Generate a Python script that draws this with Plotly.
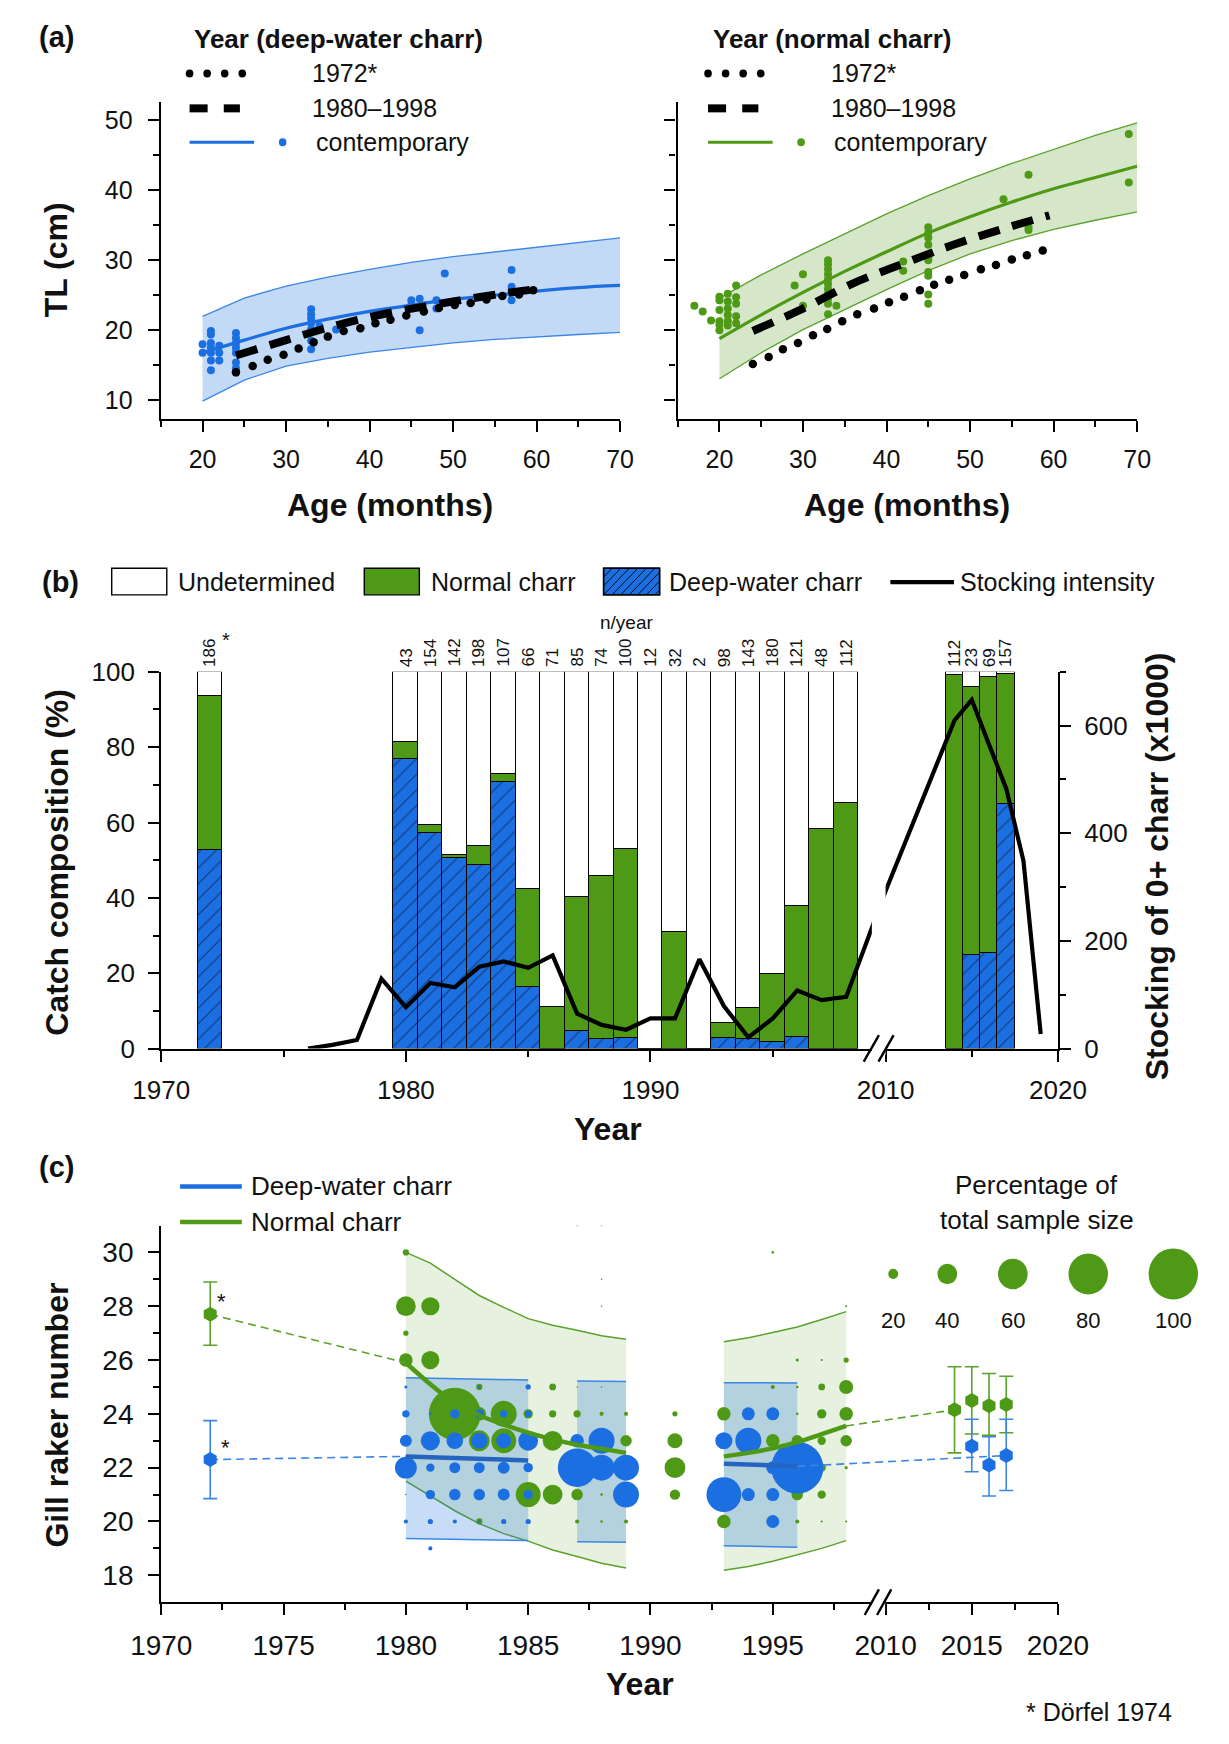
import plotly.graph_objects as go

# ======================= DATA =======================
# ---- Panel (a): total length TL (cm) against age (months) ----
AGE_FIT = [20, 25, 30, 35, 40, 45, 50, 55, 60, 65, 70]
DEEP_FIT = [16.8, 18.6, 20.3, 21.6, 22.7, 23.6, 24.4, 25.0, 25.6, 26.1, 26.4]
DEEP_UPPER = [22.0, 24.6, 26.3, 27.6, 28.7, 29.7, 30.5, 31.2, 31.9, 32.6, 33.2]
DEEP_LOWER = [9.9, 12.9, 14.9, 16.0, 16.9, 17.6, 18.2, 18.7, 19.1, 19.4, 19.7]
NORM_FIT = [18.8, 22.2, 25.4, 28.4, 31.2, 33.9, 36.2, 38.3, 40.2, 41.8, 43.4]
NORM_UPPER = [24.6, 27.9, 30.9, 33.8, 36.6, 39.2, 41.6, 43.8, 45.8, 47.8, 49.6]
NORM_LOWER = [13.1, 16.8, 20.1, 23.0, 25.8, 28.5, 30.9, 32.8, 34.4, 35.7, 36.9]

DEEP_1972_AGE = [24, 26, 27.8, 29.7, 31.5, 33.3, 35, 36.9, 38.9, 40.7, 42.5, 44.4,
                 46.5, 48.3, 50.2, 52.1, 54, 55.9, 57.9, 59.6]
DEEP_1972_TL = [14.0, 14.9, 15.8, 16.5, 17.4, 18.3, 19.1, 19.9, 20.3, 21.0, 21.5, 22.1,
                22.7, 23.2, 23.6, 23.9, 24.4, 24.9, 25.1, 25.7]
DEEP_8098_AGE = [24, 30, 36, 42, 48, 54, 60]
DEEP_8098_TL = [16.4, 18.6, 20.7, 22.4, 23.7, 24.9, 25.9]

NORM_1972_AGE = [24, 25.9, 27.6, 29.4, 31.2, 32.9, 34.7, 36.5, 38.5, 40.3, 42.1, 44,
                 45.7, 47.5, 49.3, 51.3, 53.1, 55, 56.8, 58.7]
NORM_1972_TL = [15.2, 16.2, 17.3, 18.2, 19.3, 20.2, 21.3, 22.3, 23.1, 24.0, 24.8, 25.7,
                26.5, 27.2, 27.9, 28.7, 29.3, 30.1, 30.7, 31.4]
NORM_8098_AGE = [24, 30, 36, 42, 48, 54, 59.5]
NORM_8098_TL = [19.9, 23.1, 26.7, 29.5, 32.2, 34.5, 36.4]

DEEP_OBS_AGE = [20, 20, 21, 21, 21, 21, 21, 21, 21, 22, 22, 22, 24, 24, 24, 24, 24, 24, 24,
                33, 33, 33, 33, 33, 33, 33, 34, 36, 45, 45, 46, 46, 48, 48, 49, 57, 57, 57, 57]
DEEP_OBS_TL = [18.0, 16.8, 19.9, 19.4, 18.2, 17.5, 16.8, 15.7, 14.3, 17.8, 16.8, 15.7,
               19.6, 18.9, 18.2, 17.5, 16.8, 15.4, 14.6, 23.0, 22.3, 21.7, 21.0, 20.1, 18.5, 17.3,
               20.6, 20.1, 24.3, 23.6, 24.5, 20.0, 24.3, 23.1, 28.1, 28.6, 26.2, 25.5, 24.3]
NORM_OBS_AGE = [17, 18, 19, 20, 20, 20, 20, 20, 20, 21, 21, 21, 21, 21, 21, 22, 22, 22, 22, 22,
                29, 30, 30, 33, 33, 33, 33, 33, 33, 33, 33, 33, 33, 33, 34, 42, 42,
                45, 45, 45, 45, 45, 45, 45, 45, 45, 45, 54, 57, 57, 57, 69, 69]
NORM_OBS_TL = [23.5, 22.7, 21.4, 24.8, 24.3, 22.9, 21.3, 20.8, 20.0, 25.2, 24.1, 23.1, 22.2, 21.3,
               20.7, 26.4, 24.7, 23.8, 22.0, 21.0, 26.4, 28.0, 23.5, 30.0, 29.4, 28.7, 28.0, 27.3,
               26.6, 25.9, 25.2, 24.5, 23.8, 22.3, 23.5, 29.8, 28.5, 34.7, 33.9, 33.2, 32.2, 30.5,
               30.0, 28.3, 27.8, 25.1, 23.8, 38.7, 42.2, 34.7, 34.3, 48.0, 41.1]

# ---- Panel (b): catch composition (%) and stocking (x1000) ----
BAR_YEARS = [1972, 1980, 1981, 1982, 1983, 1984, 1985, 1986, 1987, 1988, 1989, 1990, 1991,
             1992, 1993, 1994, 1995, 1996, 1997, 1998, 2014, 2015, 2016, 2017]
DEEP_PCT = [52.7, 76.8, 57.2, 50.7, 48.9, 70.9, 16.5, 0, 4.6, 2.6, 2.8, 0, 0,
            0, 3.0, 2.5, 1.9, 3.2, 0, 0, 0, 24.8, 25.5, 65.0]
NORMAL_TOP_PCT = [93.7, 81.5, 59.3, 51.5, 53.7, 73.0, 42.5, 11.2, 40.2, 45.9, 52.9, 0, 31.0,
                  0, 6.8, 10.9, 19.8, 37.8, 58.3, 65.2, 99.1, 96.1, 98.6, 99.4]
N_PER_YEAR = [186, 43, 154, 142, 198, 107, 66, 71, 85, 74, 100, 12, 32,
              2, 98, 143, 180, 121, 48, 112, 112, 23, 69, 157]
STOCK_YEARS = [1976, 1977, 1978, 1979, 1980, 1981, 1982, 1983, 1984, 1985, 1986, 1987, 1988,
               1989, 1990, 1991, 1992, 1993, 1994, 1995, 1996, 1997, 1998, 1999, 2010,
               2014, 2015, 2016, 2017, 2018, 2019]
STOCK_K = [0, 7, 16, 130, 77, 122, 114, 152, 162, 150, 173, 65, 44,
           35, 56, 56, 166, 79, 21, 56, 108, 90, 96, 215, 293,
           610, 648, 565, 483, 349, 27]

# ---- Panel (c): gill raker number ----
BLUE_YEAR = [1980, 1980, 1980, 1980, 1980, 1980, 1981, 1981, 1981, 1981, 1981, 1981,
             1982, 1982, 1982, 1982, 1982, 1983, 1983, 1983, 1983, 1983, 1983,
             1984, 1984, 1984, 1984, 1984, 1985, 1985, 1985, 1985, 1985, 1985,
             1987, 1987, 1988, 1988, 1989, 1989, 1993, 1993, 1994, 1994, 1994,
             1995, 1995, 1995, 1995, 1996]
BLUE_RAKER = [25, 24, 23, 22, 21, 20, 24, 23, 22, 21, 20, 19,
              24, 23, 22, 21, 20, 25, 24, 23, 22, 21, 20,
              24, 23, 22, 21, 20, 25, 24, 23, 22, 21, 20,
              23, 22, 23, 22, 22, 21, 23, 21, 24, 23, 21,
              24, 22, 21, 20, 22]
BLUE_PCT = [6, 14, 23, 42, 3, 8, 5, 37, 16, 18, 10, 8,
            18, 32, 21, 22, 8, 5, 18, 31, 21, 22, 5,
            14, 29, 23, 23, 10, 10, 12, 38, 18, 18, 10,
            26, 74, 50, 50, 50, 50, 33, 67, 25, 50, 25,
            25, 25, 25, 25, 100]
GREEN_YEAR = [1980, 1980, 1980, 1980, 1981, 1981, 1982, 1983, 1983, 1983, 1983, 1984, 1984,
              1985, 1985, 1986, 1986, 1986, 1986, 1987, 1987, 1987, 1987, 1987,
              1988, 1988, 1988, 1988, 1988, 1988, 1988, 1989, 1989, 1989,
              1991, 1991, 1991, 1991, 1993, 1993, 1995, 1995, 1995,
              1996, 1996, 1996, 1996, 1996, 1996, 1997, 1997, 1997, 1997, 1997, 1997, 1997,
              1998, 1998, 1998, 1998, 1998, 1998, 1998]
GREEN_RAKER = [30, 28, 27, 26, 28, 26, 24, 25, 24, 23, 20, 24, 23,
               24, 21, 25, 24, 23, 21, 31, 25, 24, 21, 20,
               31, 29, 28, 25, 24, 21, 20, 24, 23, 20,
               24, 23, 22, 21, 24, 20, 30, 25, 23,
               26, 25, 24, 23, 21, 20, 26, 25, 24, 23, 22, 21, 20,
               28, 26, 25, 24, 23, 22, 20]
GREEN_PCT = [12, 38, 10, 26, 35, 35, 100, 12, 26, 40, 12, 50, 48,
             18, 48, 13, 14, 38, 38, 3, 3, 14, 22, 8,
             3, 3, 3, 3, 8, 5, 5, 8, 22, 8,
             10, 29, 40, 20, 26, 26, 5, 8, 26,
             6, 5, 5, 22, 22, 8, 4, 13, 18, 16, 16, 16, 4,
             4, 10, 27, 26, 22, 6, 4]

NORM_FIT1_YEARS = [1980, 1981, 1982, 1983, 1984, 1985, 1986, 1987, 1988, 1989]
NORM_FIT1 = [25.9, 25.1, 24.4, 23.95, 23.6, 23.3, 23.05, 22.85, 22.7, 22.55]
NORM_FIT1_UP = [30.0, 29.6, 29.0, 28.4, 27.96, 27.54, 27.29, 27.11, 26.9, 26.77]
NORM_FIT1_LO = [21.5, 20.95, 20.4, 19.92, 19.55, 19.27, 18.94, 18.7, 18.45, 18.27]
NORM_FIT2_YEARS = [1993, 1994, 1995, 1996, 1997, 1998]
NORM_FIT2 = [22.42, 22.55, 22.72, 22.95, 23.25, 23.55]
NORM_FIT2_UP = [26.68, 26.83, 27.02, 27.23, 27.51, 27.8]
NORM_FIT2_LO = [18.19, 18.33, 18.52, 18.76, 19.0, 19.29]

DEEP_FIT1_YEARS = [1980, 1985]
DEEP_FIT1 = [22.42, 22.27]
DEEP_FIT1_UP = [25.34, 25.26]
DEEP_FIT1_LO = [19.37, 19.29]
DEEP_BAND2_YEARS = [1987, 1989]
DEEP_BAND2_UP = [25.22, 25.2]
DEEP_BAND2_LO = [19.25, 19.23]
DEEP_FIT3_YEARS = [1993, 1996]
DEEP_FIT3 = [22.15, 22.05]
DEEP_FIT3_UP = [25.16, 25.15]
DEEP_FIT3_LO = [19.1, 19.04]

HEX_G_YEARS = [1972, 2014, 2015, 2016, 2017]
HEX_G_MEAN = [27.7, 24.15, 24.5, 24.3, 24.35]
HEX_G_LO = [26.55, 22.55, 23.25, 23.2, 23.3]
HEX_G_HI = [28.9, 25.75, 25.75, 25.5, 25.4]
HEX_B_YEARS = [1972, 2015, 2016, 2017]
HEX_B_MEAN = [22.3, 22.8, 22.1, 22.45]
HEX_B_LO = [20.85, 21.85, 20.95, 21.15]
HEX_B_HI = [23.75, 23.8, 23.15, 23.8]

SIZE_KEY = [20, 40, 60, 80, 100]

# ======================= STYLE / LAYOUT =======================
W, H = 1229, 1744
FONT = "Liberation Sans, Arial, Helvetica, sans-serif"
INK = "#111111"
BLUE = "#1c6fe0"
BLUE_DARK = "#2565c0"
BLUE_EDGE = "#3b86e6"
GREEN = "#4e9a17"
GREEN_EDGE = "#5aa22a"
BLUE_FILL_A = "rgba(35,120,225,0.27)"
GREEN_FILL_A = "rgba(90,160,40,0.25)"
BLUE_FILL_C = "rgba(30,115,220,0.25)"
GREEN_FILL_C = "rgba(90,160,40,0.15)"
BUBBLE_PX_PER_PCT = 0.52


def PX(x):
    return x / W


def PY(y):
    return 1 - y / H


# broken time axis: 1970 at px 137.2 (25.76 px/yr); 2010 at px 900 (18.15 px/yr)
L0_PX, L_SCALE = 137.2, 25.76
R0_PX, R_SCALE = 900.0, 18.15


def xb(year):
    if year < 2005:
        return year
    return 1970 + (R0_PX - L0_PX + (year - 2010) * R_SCALE) / L_SCALE


def bw(year):
    return 1.0 if year < 2005 else R_SCALE / L_SCALE


X_END = xb(2020)

fig = go.Figure()


def band(x, up, lo, edge, fill, xa, ya, ew=1.3):
    fig.add_trace(go.Scatter(x=x, y=up, mode="lines", line=dict(color=edge, width=ew),
                             xaxis=xa, yaxis=ya, hoverinfo="skip"))
    fig.add_trace(go.Scatter(x=x, y=lo, mode="lines", line=dict(color=edge, width=ew),
                             fill="tonexty", fillcolor=fill, xaxis=xa, yaxis=ya, hoverinfo="skip"))


# ---------------- Panel (a) ----------------
for (xa, ya, fit, up, lo, col, edge, fillc, oa, ot, a72, t72, a80, t80) in [
    ("x", "y", DEEP_FIT, DEEP_UPPER, DEEP_LOWER, BLUE, BLUE_EDGE, BLUE_FILL_A,
     DEEP_OBS_AGE, DEEP_OBS_TL, DEEP_1972_AGE, DEEP_1972_TL, DEEP_8098_AGE, DEEP_8098_TL),
    ("x2", "y2", NORM_FIT, NORM_UPPER, NORM_LOWER, GREEN, GREEN_EDGE, GREEN_FILL_A,
     NORM_OBS_AGE, NORM_OBS_TL, NORM_1972_AGE, NORM_1972_TL, NORM_8098_AGE, NORM_8098_TL),
]:
    band(AGE_FIT, up, lo, edge, fillc, xa, ya)
    fig.add_trace(go.Scatter(x=oa, y=ot, mode="markers", marker=dict(color=col, size=8, opacity=1),
                             xaxis=xa, yaxis=ya))
    fig.add_trace(go.Scatter(x=AGE_FIT, y=fit, mode="lines", line=dict(color=col, width=3.2, shape="spline"),
                             xaxis=xa, yaxis=ya))
    fig.add_trace(go.Scatter(x=a80, y=t80, mode="lines",
                             line=dict(color="black", width=8, dash="22px,13px", shape="spline"),
                             xaxis=xa, yaxis=ya))
    fig.add_trace(go.Scatter(x=a72, y=t72, mode="markers", marker=dict(color="black", size=8.5, opacity=1),
                             xaxis=xa, yaxis=ya))

# ---------------- Panel (b) ----------------
bx = [xb(y) for y in BAR_YEARS]
bwid = [bw(y) for y in BAR_YEARS]
normal_share = [t - d for t, d in zip(NORMAL_TOP_PCT, DEEP_PCT)]
undet_share = [100 - t for t in NORMAL_TOP_PCT]
outline = dict(color="black", width=1.1)
fig.add_trace(go.Bar(x=bx, y=DEEP_PCT, width=bwid, xaxis="x3", yaxis="y3",
                     marker=dict(color=BLUE, line=outline,
                                 pattern=dict(shape="/", fgcolor="black", bgcolor=BLUE,
                                              size=11, solidity=0.09))))
fig.add_trace(go.Bar(x=bx, y=normal_share, width=bwid, xaxis="x3", yaxis="y3",
                     marker=dict(color=GREEN, line=outline)))
fig.add_trace(go.Bar(x=bx, y=undet_share, width=bwid, xaxis="x3", yaxis="y3",
                     marker=dict(color="white", line=outline)))
fig.add_trace(go.Scatter(x=[xb(y) for y in STOCK_YEARS], y=STOCK_K, mode="lines",
                         line=dict(color="black", width=4.2), xaxis="x3", yaxis="y4"))

# ---------------- Panel (c) ----------------
XA, YA = "x4", "y5"
band([xb(y) for y in NORM_FIT1_YEARS], NORM_FIT1_UP, NORM_FIT1_LO, GREEN_EDGE, GREEN_FILL_C, XA, YA, 1.5)
band([xb(y) for y in NORM_FIT2_YEARS], NORM_FIT2_UP, NORM_FIT2_LO, GREEN_EDGE, GREEN_FILL_C, XA, YA, 1.5)
band([xb(y) for y in DEEP_FIT1_YEARS], DEEP_FIT1_UP, DEEP_FIT1_LO, BLUE_EDGE, BLUE_FILL_C, XA, YA, 1.5)
band([xb(y) for y in DEEP_BAND2_YEARS], DEEP_BAND2_UP, DEEP_BAND2_LO, BLUE_EDGE, BLUE_FILL_C, XA, YA, 1.5)
band([xb(y) for y in DEEP_FIT3_YEARS], DEEP_FIT3_UP, DEEP_FIT3_LO, BLUE_EDGE, BLUE_FILL_C, XA, YA, 1.5)

fig.add_trace(go.Scatter(x=[xb(y) for y in GREEN_YEAR], y=GREEN_RAKER, mode="markers",
                         marker=dict(color=GREEN, opacity=1, size=[p * BUBBLE_PX_PER_PCT for p in GREEN_PCT],
                                     line=dict(width=0)), xaxis=XA, yaxis=YA))
fig.add_trace(go.Scatter(x=[xb(y) for y in BLUE_YEAR], y=BLUE_RAKER, mode="markers",
                         marker=dict(color=BLUE, opacity=1, size=[p * BUBBLE_PX_PER_PCT for p in BLUE_PCT],
                                     line=dict(width=0)), xaxis=XA, yaxis=YA))

# dashed connectors between historic / contemporary means and the fitted lines
dash_c = dict(width=1.6, dash="8px,5px")
fig.add_trace(go.Scatter(x=[xb(HEX_G_YEARS[0]), xb(NORM_FIT1_YEARS[0])], y=[HEX_G_MEAN[0], NORM_FIT1[0]],
                         mode="lines", line=dict(color=GREEN_EDGE, **dash_c), xaxis=XA, yaxis=YA))
fig.add_trace(go.Scatter(x=[xb(NORM_FIT2_YEARS[-1]), xb(HEX_G_YEARS[1])], y=[NORM_FIT2[-1], HEX_G_MEAN[1]],
                         mode="lines", line=dict(color=GREEN_EDGE, **dash_c), xaxis=XA, yaxis=YA))
fig.add_trace(go.Scatter(x=[xb(HEX_B_YEARS[0]), xb(DEEP_FIT1_YEARS[0])], y=[HEX_B_MEAN[0], DEEP_FIT1[0]],
                         mode="lines", line=dict(color=BLUE_EDGE, **dash_c), xaxis=XA, yaxis=YA))
fig.add_trace(go.Scatter(x=[xb(DEEP_FIT3_YEARS[-1]), xb(HEX_B_YEARS[-1])], y=[DEEP_FIT3[-1], HEX_B_MEAN[-1]],
                         mode="lines", line=dict(color=BLUE_EDGE, **dash_c), xaxis=XA, yaxis=YA))

for yrs, fit, col in [(NORM_FIT1_YEARS, NORM_FIT1, GREEN), (NORM_FIT2_YEARS, NORM_FIT2, GREEN),
                      (DEEP_FIT1_YEARS, DEEP_FIT1, BLUE_DARK), (DEEP_FIT3_YEARS, DEEP_FIT3, BLUE_DARK)]:
    fig.add_trace(go.Scatter(x=[xb(y) for y in yrs], y=fit, mode="lines",
                             line=dict(color=col, width=4.5, shape="spline"), xaxis=XA, yaxis=YA))

for yrs, mean, lo, hi, col, ecol in [(HEX_G_YEARS, HEX_G_MEAN, HEX_G_LO, HEX_G_HI, GREEN, GREEN_EDGE),
                                     (HEX_B_YEARS, HEX_B_MEAN, HEX_B_LO, HEX_B_HI, BLUE, BLUE_EDGE)]:
    fig.add_trace(go.Scatter(
        x=[xb(y) for y in yrs], y=mean, mode="markers",
        marker=dict(symbol="hexagon", size=15, color=col, opacity=1, line=dict(width=0)),
        error_y=dict(type="data", symmetric=False,
                     array=[h - m for h, m in zip(hi, mean)],
                     arrayminus=[m - l for m, l in zip(mean, lo)],
                     color=ecol, thickness=1.6, width=7),
        xaxis=XA, yaxis=YA))


# ======================= AXES =======================
def ax(size, **kw):
    d = dict(showline=True, linecolor="black", linewidth=2.4, ticks="outside", ticklen=11,
             tickwidth=2.4, tickcolor="black", showgrid=False, zeroline=False,
             tickfont=dict(family=FONT, size=size, color=INK), fixedrange=True)
    d.update(kw)
    return d


def minor(vals):
    return dict(tickmode="array", tickvals=vals, ticks="outside", ticklen=6, tickwidth=2.2,
                tickcolor="black")


A_X_TOP, A_X_BOT = 88.3, 410.7
layout_axes = dict(
    xaxis=ax(25, domain=[PX(136.7), PX(620.4)], range=[15, 70], anchor="y",
             tickmode="array", tickvals=[20, 30, 40, 50, 60, 70], minor=minor([15, 25, 35, 45, 55, 65]),
             ticklabelstandoff=6),
    yaxis=ax(25, domain=[PY(A_X_BOT), PY(A_X_TOP)], range=[7.4, 52.6], anchor="x",
             tickmode="array", tickvals=[10, 20, 30, 40, 50], minor=minor([15, 25, 35, 45]),
             ticklabelstandoff=10),
    xaxis2=ax(25, domain=[PX(681), PX(1164.9)], range=[15, 70], anchor="y2",
              tickmode="array", tickvals=[20, 30, 40, 50, 60, 70], minor=minor([15, 25, 35, 45, 55, 65]),
              ticklabelstandoff=6),
    yaxis2=ax(25, domain=[PY(A_X_BOT), PY(A_X_TOP)], range=[7.4, 52.6], anchor="x2",
              tickmode="array", tickvals=[10, 20, 30, 40, 50], minor=minor([15, 25, 35, 45]),
              showticklabels=False),
    xaxis3=ax(26, domain=[PX(137.2), PX(1081.5)], range=[1970, X_END], anchor="y3",
              tickmode="array", tickvals=[xb(y) for y in [1970, 1980, 1990, 2010, 2020]],
              ticktext=["1970", "1980", "1990", "2010", "2020"],
              minor=minor([xb(y) for y in [1975, 1985, 1995, 2015]]), ticklabelstandoff=6),
    yaxis3=ax(26, domain=[PY(1051.7), PY(668.3)], range=[0, 100], anchor="x3",
              tickmode="array", tickvals=[0, 20, 40, 60, 80, 100], minor=minor([10, 30, 50, 70, 90]),
              ticklabelstandoff=8),
    yaxis4=ax(26, overlaying="y3", side="right", anchor="x3", range=[0, 700],
              tickmode="array", tickvals=[0, 200, 400, 600], minor=minor([100, 300, 500, 700]),
              ticklabelstandoff=8),
    xaxis4=ax(28, domain=[PX(137.2), PX(1081.5)], range=[1970, X_END], anchor="y5",
              tickmode="array",
              tickvals=[xb(y) for y in [1970, 1975, 1980, 1985, 1990, 1995, 2010, 2015, 2020]],
              ticktext=["1970", "1975", "1980", "1985", "1990", "1995", "2010", "2015", "2020"],
              minor=minor([xb(y) for y in [1972.5, 1977.5, 1982.5, 1987.5, 1992.5, 1997.5, 2012.5, 2017.5]]),
              ticklabelstandoff=6),
    yaxis5=ax(28, domain=[PY(1615), PY(1231.7)], range=[17, 31], anchor="x4",
              tickmode="array", tickvals=[18, 20, 22, 24, 26, 28, 30],
              minor=minor([19, 21, 23, 25, 27, 29]), ticklabelstandoff=9),
)

# ======================= ANNOTATIONS / SHAPES =======================
ann = []
shapes = []


def text(x, y, s, size, xanchor="center", yanchor="middle", bold=False, angle=0, color=INK):
    ann.append(dict(x=PX(x), y=PY(y), xref="paper", yref="paper", showarrow=False,
                    text=f"<b>{s}</b>" if bold else s, textangle=angle,
                    xanchor=xanchor, yanchor=yanchor,
                    font=dict(family=FONT, size=size, color=color)))


def line(x0, y0, x1, y1, color="black", width=2.4, layer="above"):
    shapes.append(dict(type="line", xref="paper", yref="paper", x0=PX(x0), y0=PY(y0),
                       x1=PX(x1), y1=PY(y1), line=dict(color=color, width=width), layer=layer))


def circle(cx, cy, d, color):
    shapes.append(dict(type="circle", xref="paper", yref="paper", x0=PX(cx - d / 2), x1=PX(cx + d / 2),
                       y0=PY(cy + d / 2), y1=PY(cy - d / 2), fillcolor=color, line=dict(width=0),
                       layer="above"))


def rect(x0, y0, x1, y1, fill, lc="black", lw=1.4):
    shapes.append(dict(type="rect", xref="paper", yref="paper", x0=PX(x0), x1=PX(x1),
                       y0=PY(y1), y1=PY(y0), fillcolor=fill, line=dict(color=lc, width=lw),
                       layer="above"))


# panel labels
text(27, 22, "(a)", 29, bold=True)
text(31, 577, "(b)", 29, bold=True)
text(27, 1172, "(c)", 29, bold=True)

# panel (a) axis titles
text(26.5, 249.5, "TL (cm)", 32, bold=True, angle=-90)
text(378, 499, "Age (months)", 32, bold=True)
text(923, 499, "Age (months)", 32, bold=True)

# panel (a) legends
for (x0, title, col) in [(167, "Year (deep-water charr)", BLUE), (713, "Year (normal charr)", GREEN)]:
    text(x0 + 3, 24, title, 26, xanchor="left", bold=True)
    for k in range(4):
        circle(x0 + k * 18.5, 59.5, 8, "black")
    line(x0, 95, x0 + 19, 95, width=8)
    line(x0 + 36, 95, x0 + 53, 95, width=8)
    line(x0, 129.5, x0 + 68, 129.5, color=col, width=3)
    circle(x0 + 98, 129.5, 8, col)
    text(x0 + 127, 59.5, "1972*", 25, xanchor="left")
    text(x0 + 127, 95, "1980\u20131998", 25, xanchor="left")
    text(x0 + 131, 129.5, "contemporary", 25, xanchor="left")

# panel (b) legend
rect(85, 563, 143, 590, "white")
text(153, 577, "Undetermined", 25, xanchor="left")
rect(351, 563, 409, 590, GREEN)
text(419, 577, "Normal charr", 25, xanchor="left")
rect(603, 563, 662, 590, BLUE)
hx0, hx1, hy0, hy1 = 603, 662, 563, 590
hh = hy1 - hy0
c = hx0 - hh
while c < hx1:
    ts, te = max(0, hx0 - c), min(hh, hx1 - c)
    if te > ts:
        line(c + ts, hy1 - ts, c + te, hy1 - te, width=0.9)
    c += 9
rect(603, 563, 662, 590, "rgba(0,0,0,0)")
text(670, 577, "Deep-water charr", 25, xanchor="left")
line(905, 577, 972, 577, width=4.2)
text(976, 577, "Stocking intensity", 25, xanchor="left")

# panel (b) n/year labels
text(627, 618, "n/year", 19)
for yr, n in zip(BAR_YEARS, N_PER_YEAR):
    ann.append(dict(x=xb(yr), y=100, xref="x3", yref="y3", text=str(n), textangle=-90,
                    showarrow=False, xanchor="center", yanchor="bottom", yshift=3,
                    font=dict(family=FONT, size=17, color=INK)))
text(205, 636, "*", 20)

# panel (b) axis titles
text(28, 862, "Catch composition (%)", 32, bold=True, angle=-90)
text(1186, 866, "Stocking of 0+ charr (x1000)", 32, bold=True, angle=-90)
text(608, 1134, "Year", 32, bold=True)

# axis breaks (white gap + slashes)
rect(885.5, 640, 900, 1058, "white", lc="white", lw=0)
line(877, 1065, 893, 1038, width=2.4)
line(892.5, 1065, 908.5, 1038, width=2.4)
rect(885.5, 1606, 899.5, 1624, "white", lc="white", lw=0)
line(878, 1628, 893, 1602, width=2.4)
line(891, 1628, 906, 1602, width=2.4)

# panel (c) legend and titles
line(157, 1192, 222, 1192, color=BLUE, width=4.5)
text(229.6, 1192, "Deep-water charr", 26, xanchor="left")
line(157, 1228, 222, 1228, color=GREEN, width=4.5)
text(229.6, 1228, "Normal charr", 26, xanchor="left")
text(1059, 1190, "Percentage of", 26)
text(1059, 1226, "total sample size", 26)
for pct, cx in zip(SIZE_KEY, [908, 965, 1034, 1113.4, 1203]):
    circle(cx, 1281, pct * BUBBLE_PX_PER_PCT, GREEN)
    text(cx, 1328, str(pct), 22)
text(201, 1309, "*", 22)
text(205, 1458, "*", 22)
text(27.5, 1425, "Gill raker number", 32, bold=True, angle=-90)
text(641.5, 1698, "Year", 32, bold=True)
text(1204, 1727, "* D\u00f6rfel 1974", 25, xanchor="right")

fig.update_layout(
    width=W, height=H, margin=dict(l=0, r=0, t=0, b=0),
    paper_bgcolor="white", plot_bgcolor="white",
    showlegend=False, barmode="stack", bargap=0,
    font=dict(family=FONT, color=INK),
    annotations=ann, shapes=shapes,
    **layout_axes,
)

# the page's default 8px body margin would shift the figure; remove it
fig.write_html("out.html", post_script="document.body.style.margin='0';")
